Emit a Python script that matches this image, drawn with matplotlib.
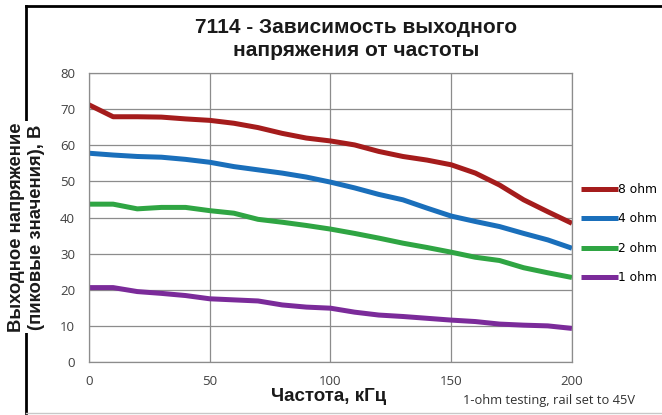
import numpy as np
import matplotlib
matplotlib.use("Agg")
import matplotlib.pyplot as plt
from matplotlib.lines import Line2D

# частота, кГц
freq = [0, 10, 20, 30, 40, 50, 60, 70, 80, 90, 100,
        110, 120, 130, 140, 150, 160, 170, 180, 190, 200]

ohm8 = [71.2, 67.9, 67.9, 67.8, 67.3, 66.9, 66.1, 64.9, 63.3, 62.0, 61.2,
        60.1, 58.3, 56.9, 55.9, 54.6, 52.3, 49.0, 44.9, 41.6, 38.4]
ohm4 = [57.8, 57.3, 56.9, 56.7, 56.1, 55.3, 54.1, 53.2, 52.3, 51.2, 49.8,
        48.2, 46.4, 44.9, 42.6, 40.4, 38.9, 37.5, 35.6, 33.8, 31.5]
ohm2 = [43.7, 43.7, 42.4, 42.8, 42.8, 41.9, 41.2, 39.5, 38.7, 37.8, 36.8,
        35.6, 34.3, 32.9, 31.7, 30.4, 29.0, 28.1, 26.1, 24.7, 23.4]
ohm1 = [20.6, 20.6, 19.5, 19.0, 18.4, 17.5, 17.2, 16.9, 15.8, 15.2, 14.9,
        13.8, 13.0, 12.6, 12.1, 11.6, 11.2, 10.5, 10.2, 10.0, 9.3]

series = [("8 ohm", ohm8, "#a51c1c"),
          ("4 ohm", ohm4, "#1a6fbb"),
          ("2 ohm", ohm2, "#2fa543"),
          ("1 ohm", ohm1, "#7b2b9a")]

fig = plt.figure(figsize=(6.62, 4.15), dpi=100)
ax = fig.add_axes([0.1344, 0.1277, 0.7296, 0.6963])

for name, vals, col in series:
    ax.plot(freq, vals, color=col, lw=3.6, label=name, solid_capstyle="butt")

ax.set_xlim(0, 200)
ax.set_ylim(0, 80)
ax.set_xticks([0, 50, 100, 150, 200])
ax.set_yticks(range(0, 81, 10))
ax.grid(True, color="#8c8c8c", lw=0.9)
ax.set_axisbelow(True)
for s in ax.spines.values():
    s.set_color("#8c8c8c")
    s.set_linewidth(0.9)
ax.tick_params(length=0, labelsize=9.5, colors="#404040")
for lab in ax.get_xticklabels() + ax.get_yticklabels():
    lab.set_family("Open Sans")
ax.tick_params(axis="y", pad=10)
ax.tick_params(axis="x", pad=9)

leg = ax.legend(loc="center left", bbox_to_anchor=(1.0, 0.444), frameon=False,
                fontsize=8.8, handlelength=3.1, handletextpad=0.0,
                labelspacing=1.35, borderaxespad=0.3)

fig.text(0.538, 0.906, "7114 - Зависимость выходного\nнапряжения от частоты",
         ha="center", va="center", fontsize=15, fontweight="bold",
         family="Liberation Sans", color="#1a1a1a", linespacing=1.25)

fig.text(0.040, 0.453, "Выходное напряжение\n(пиковые значения), В",
         ha="center", va="center", rotation=90, fontsize=13.3, fontweight="bold",
         family="Liberation Sans", color="#1a1a1a", linespacing=1.3,
         bbox=dict(facecolor="white", edgecolor="none", pad=1))

fig.text(0.496, 0.045, "Частота, кГц", ha="center", va="center",
         fontsize=13.5, fontweight="bold", family="Liberation Sans", color="#1a1a1a")
fig.text(0.829, 0.035, "1-ohm testing, rail set to 45V", ha="center", va="center",
         fontsize=9.3, family="Open Sans", color="#303030")

# рамка вокруг диаграммы
fig.add_artist(Line2D([0.039, 1.0], [0.986, 0.986], color="black", lw=2,
                      transform=fig.transFigure, zorder=0))
fig.add_artist(Line2D([0.039, 0.039], [0.986, 0.005], color="black", lw=2,
                      transform=fig.transFigure, zorder=0))
fig.add_artist(Line2D([0.039, 1.0], [0.006, 0.006], color="#c8c8c8", lw=1,
                      transform=fig.transFigure, zorder=0))

fig.savefig("out.png", dpi=100)
